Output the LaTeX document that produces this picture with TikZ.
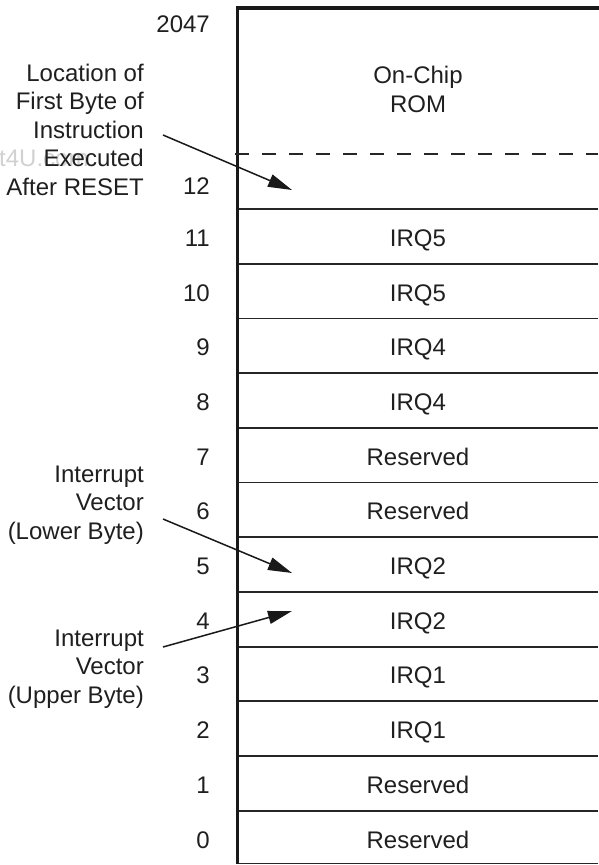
\documentclass[tikz,border=0pt]{standalone}
\usepackage{fontspec}
\setmainfont{Liberation Sans}
\usetikzlibrary{arrows.meta}
\begin{document}
\begin{tikzpicture}[x=1pt,y=-1pt,
  lbl/.style={font=\fontsize{24}{28.5}\selectfont, inner sep=0pt, text=black!88},
  num/.style={lbl, anchor=base east},
  cell/.style={lbl, anchor=base},
  note/.style={lbl, align=right, anchor=base east},
  rowline/.style={line width=1.8pt, draw=black!85},
  ptr/.style={line width=1.5pt, draw=black!90, -{Triangle[length=24pt,width=13pt]}}]
\useasboundingbox (0,0) rectangle (598,865);
% watermark remnant
\node[lbl, anchor=base west, text=black!18] (wm) at (-1,166) {t4U.com};
% frame
\draw[line width=3.5pt, draw=black!90, line join=miter] (237.5,863.5) -- (237.5,8) -- (600,8);
\draw[line width=1.5pt, draw=black!85, dash pattern=on 14pt off 13pt] (235,154) -- (598,154);
\foreach \k in {0,...,11} \draw[rowline] (239,{209+54.7*\k}) -- (598,{209+54.7*\k});
\draw[rowline] (239,863.5) -- (598,863.5);
% top area
\node[num] (n2047) at (210,32) {2047};
\node[num] (n12) at (210,194) {12};
\node[lbl, align=center, anchor=base] (rom) at (418,112) {On-Chip\\ROM};
% rows
\foreach \i/\t in {11/IRQ5,10/IRQ5,9/IRQ4,8/IRQ4,7/Reserved,6/Reserved,5/IRQ2,4/IRQ2,3/IRQ1,2/IRQ1,1/Reserved,0/Reserved}{
  \node[num] (n\i) at (210,{209+54.7*(11-\i)+27.35+10}) {\i};
  \node[cell] (c\i) at (418,{209+54.7*(11-\i)+27.35+10}) {\t};
}
% notes
\node[note] (reset) at (144,195) {Location of\\First Byte of\\Instruction\\Executed\\After RESET};
\node[note] (lower) at (144,539) {Interrupt\\Vector\\(Lower Byte)};
\node[note] (upper) at (144,703) {Interrupt\\Vector\\(Upper Byte)};
% arrows
\coordinate (s1) at (163,135);
\coordinate (t1) at (292,190);
\coordinate (s2) at (163,519);
\coordinate (t2) at (292,573);
\coordinate (s3) at (163,647);
\coordinate (t3) at (292,611);
\draw[ptr] (s1) -- (t1);
\draw[ptr] (s2) -- (t2);
\draw[ptr] (s3) -- (t3);
\end{tikzpicture}
\end{document}
